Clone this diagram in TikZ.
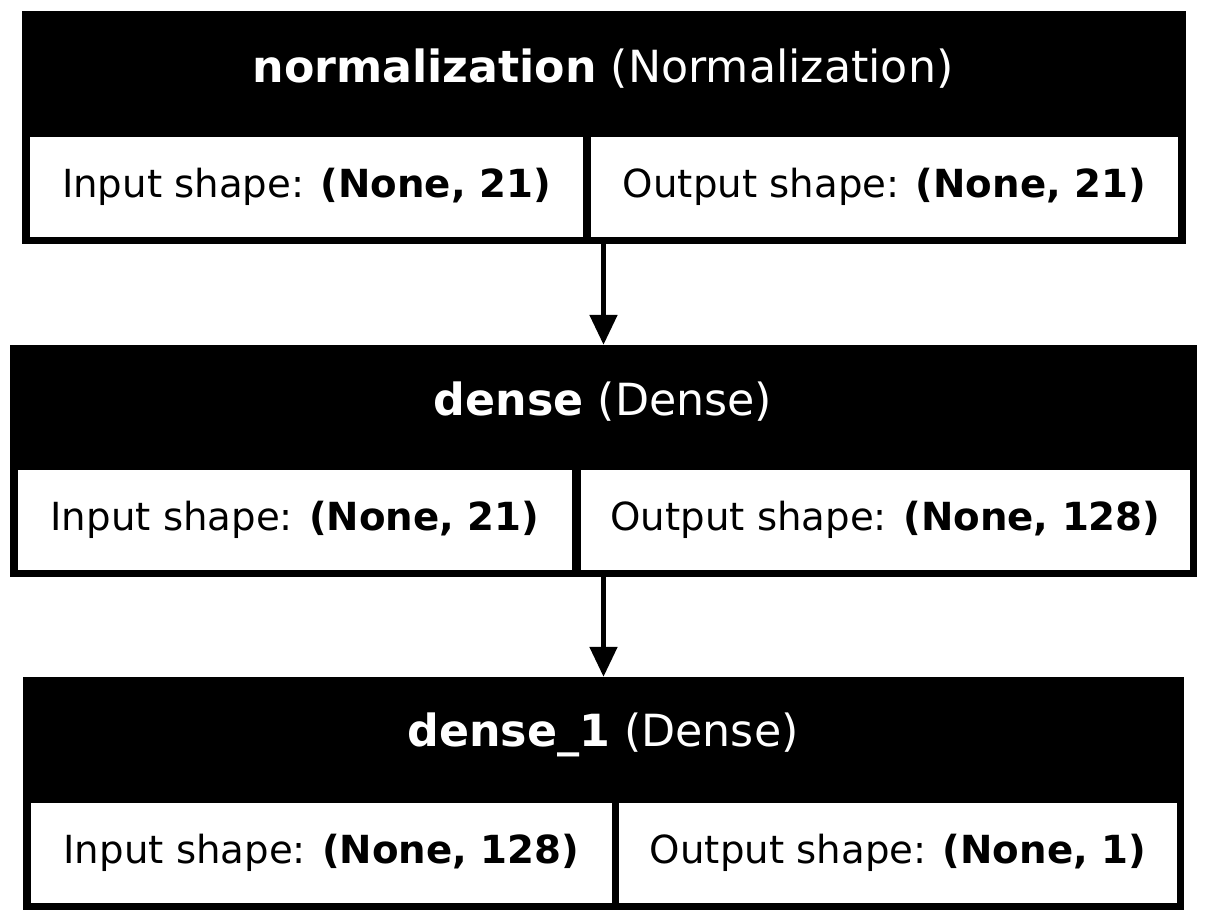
\documentclass[tikz,border=0pt]{standalone}
\usepackage{fontspec}
\setmainfont{DejaVu Sans}
\usetikzlibrary{arrows.meta}

\begin{document}
\begin{tikzpicture}[x=1pt,y=-1pt,
    layer/.style={fill=black, inner sep=0pt, minimum height=233pt},
    cell/.style={fill=white, inner sep=0pt, minimum height=100pt, font=\fontsize{38.7}{46}\selectfont},
    head/.style={text=white, inner sep=0pt, font=\fontsize{44.3}{53}\selectfont},
    flow/.style={line width=5pt, -{Triangle[width=27pt,length=30pt]}}]
    \useasboundingbox (0,0) rectangle (1208,922);

    % Layers
    \node[layer, minimum width=1164pt] (norm) at (604,127.5) {};
    \node[layer, minimum width=1187pt, minimum height=232pt] (dense) at (603.5,461) {};
    \node[layer, minimum width=1161pt] (denseone) at (603.5,793.5) {};

    % Headers
    \node[head] (normhead) at (603,69) {\textbf{normalization} (Normalization)};
    \node[head] (densehead) at (603,402) {\textbf{dense} (Dense)};
    \node[head] (denseonehead) at (603,735) {\textbf{dense\_1} (Dense)};

    % Shapes
    \node[cell, minimum width=553pt] (normin) at (306.5,187) {Input shape: \textbf{(None, 21)}};
    \node[cell, minimum width=587pt] (normout) at (884.5,187) {Output shape: \textbf{(None, 21)}};
    \node[cell, minimum width=554pt] (densein) at (295,520) {Input shape: \textbf{(None, 21)}};
    \node[cell, minimum width=609pt] (denseout) at (885.5,520) {Output shape: \textbf{(None, 128)}};
    \node[cell, minimum width=581pt] (denseonein) at (321.5,853) {Input shape: \textbf{(None, 128)}};
    \node[cell, minimum width=558pt] (denseoneout) at (898,853) {Output shape: \textbf{(None, 1)}};

    % Arrows
    \draw[flow] (dense.north |- norm.south) -- (dense.north);
    \draw[flow] (dense.south) -- (denseone.north);
\end{tikzpicture}
\end{document}
